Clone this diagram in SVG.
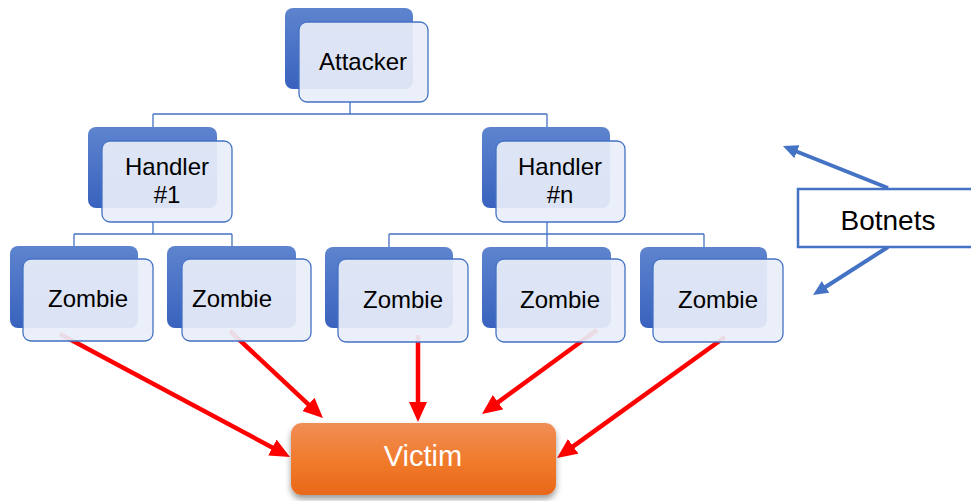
<svg xmlns="http://www.w3.org/2000/svg" width="971" height="501" viewBox="0 0 971 501">
<defs>
<linearGradient id="gBack" x1="0" y1="0" x2="0" y2="1">
<stop offset="0" stop-color="#5E84CE"/>
<stop offset="1" stop-color="#3862BE"/>
</linearGradient>
<linearGradient id="gVictim" x1="0" y1="0" x2="0" y2="1">
<stop offset="0" stop-color="#F08E56"/>
<stop offset="0.55" stop-color="#F07A2A"/>
<stop offset="1" stop-color="#E8681A"/>
</linearGradient>
<filter id="shadow" x="-10%" y="-20%" width="120%" height="150%">
<feDropShadow dx="0" dy="4" stdDeviation="3" flood-color="#000" flood-opacity="0.4"/>
</filter>
<marker id="redHead" markerUnits="userSpaceOnUse" markerWidth="20" markerHeight="18" viewBox="0 0 20 18" refX="4" refY="9" orient="auto">
<path d="M0,0 L20,9 L0,18 z" fill="#FF0000"/>
</marker>
<marker id="blueHead" markerUnits="userSpaceOnUse" markerWidth="15" markerHeight="14" viewBox="0 0 15 14" refX="3" refY="7" orient="auto">
<path d="M0,0 L15,7 L0,14 z" fill="#4472C4"/>
</marker>
<style>
.back{fill:url(#gBack);}
.front{fill:#E9EEF8;fill-opacity:0.92;stroke:#4472C4;stroke-width:1.3;}
.tree{fill:none;stroke:#4472C4;stroke-width:1.3;}
.red{fill:none;stroke:#FF0000;stroke-width:4.5;marker-end:url(#redHead);}
.blue{fill:none;stroke:#4472C4;stroke-width:4;marker-end:url(#blueHead);}
.lbl{font-family:"Liberation Sans",Arial,sans-serif;font-size:24px;fill:#000;text-anchor:middle;}
.vic{font-family:"Liberation Sans",Arial,sans-serif;font-size:29px;fill:#FFFFFF;text-anchor:middle;}
.bot{font-family:"Liberation Sans",Arial,sans-serif;font-size:28px;fill:#000;text-anchor:middle;}
</style>
</defs>
<rect width="971" height="501" fill="#FFFFFF"/>
<g id="connectors">
<path class="tree" d="M350,102 V114 M153,114 H547 M153,114 V141 M547,114 V141"/>
<path class="tree" d="M153,222 V234 M74,234 H232 M74,234 V259 M232,234 V259"/>
<path class="tree" d="M547,222 V234 M389,234 H704 M389,234 V259 M547,234 V259 M704,234 V259"/>
<line class="red" x1="60" y1="334" x2="275.9" y2="449.4"/>
<line class="red" x1="230" y1="331" x2="311.3" y2="407.1"/>
<line class="red" x1="418" y1="335" x2="418" y2="406"/>
<line class="red" x1="597" y1="330" x2="494.9" y2="404.6"/>
<line class="red" x1="725" y1="337" x2="570" y2="448.7"/>
<line class="blue" x1="888" y1="188" x2="794.1" y2="150.5"/>
<line class="blue" x1="888" y1="247" x2="823.1" y2="288.5"/>
</g>
<g id="attacker">
<rect class="back" x="285" y="8" width="128" height="81" rx="8"/>
<rect class="front" x="299" y="22" width="129" height="80" rx="8"/>
<text class="lbl" x="363" y="70">Attacker</text>
</g>
<g id="handler1">
<rect class="back" x="88" y="127" width="129" height="81" rx="8"/>
<rect class="front" x="102" y="141" width="130" height="81" rx="8"/>
<text class="lbl" x="167" y="175">Handler</text>
<text class="lbl" x="167" y="203">#1</text>
</g>
<g id="handlern">
<rect class="back" x="482" y="127" width="128" height="81" rx="8"/>
<rect class="front" x="496" y="141" width="129" height="81" rx="8"/>
<text class="lbl" x="560" y="175">Handler</text>
<text class="lbl" x="560" y="203">#n</text>
</g>
<g id="zombie1">
<rect class="back" x="10" y="246" width="128" height="82" rx="8"/>
<rect class="front" x="23" y="259" width="130" height="82" rx="8"/>
<text class="lbl" x="88" y="307">Zombie</text>
</g>
<g id="zombie2">
<rect class="back" x="167" y="246" width="129" height="82" rx="8"/>
<rect class="front" x="182" y="259" width="129" height="82" rx="8"/>
<text class="lbl" x="232" y="307">Zombie</text>
</g>
<g id="zombie3">
<rect class="back" x="325" y="247" width="128" height="81" rx="8"/>
<rect class="front" x="338" y="259" width="130" height="83" rx="8"/>
<text class="lbl" x="403" y="308">Zombie</text>
</g>
<g id="zombie4">
<rect class="back" x="482" y="247" width="129" height="81" rx="8"/>
<rect class="front" x="496" y="259" width="129" height="83" rx="8"/>
<text class="lbl" x="560" y="308">Zombie</text>
</g>
<g id="zombie5">
<rect class="back" x="640" y="247" width="127" height="81" rx="8"/>
<rect class="front" x="653" y="259" width="130" height="83" rx="8"/>
<text class="lbl" x="718" y="308">Zombie</text>
</g>
<g id="victim">
<rect x="291" y="423" width="265" height="72" rx="11" fill="url(#gVictim)" filter="url(#shadow)"/>
<text class="vic" x="423" y="466">Victim</text>
</g>
<g id="botnets">
<rect x="798" y="189" width="180" height="58" fill="#FFFFFF" stroke="#4472C4" stroke-width="2.5"/>
<text class="bot" x="888" y="230">Botnets</text>
</g>
</svg>
